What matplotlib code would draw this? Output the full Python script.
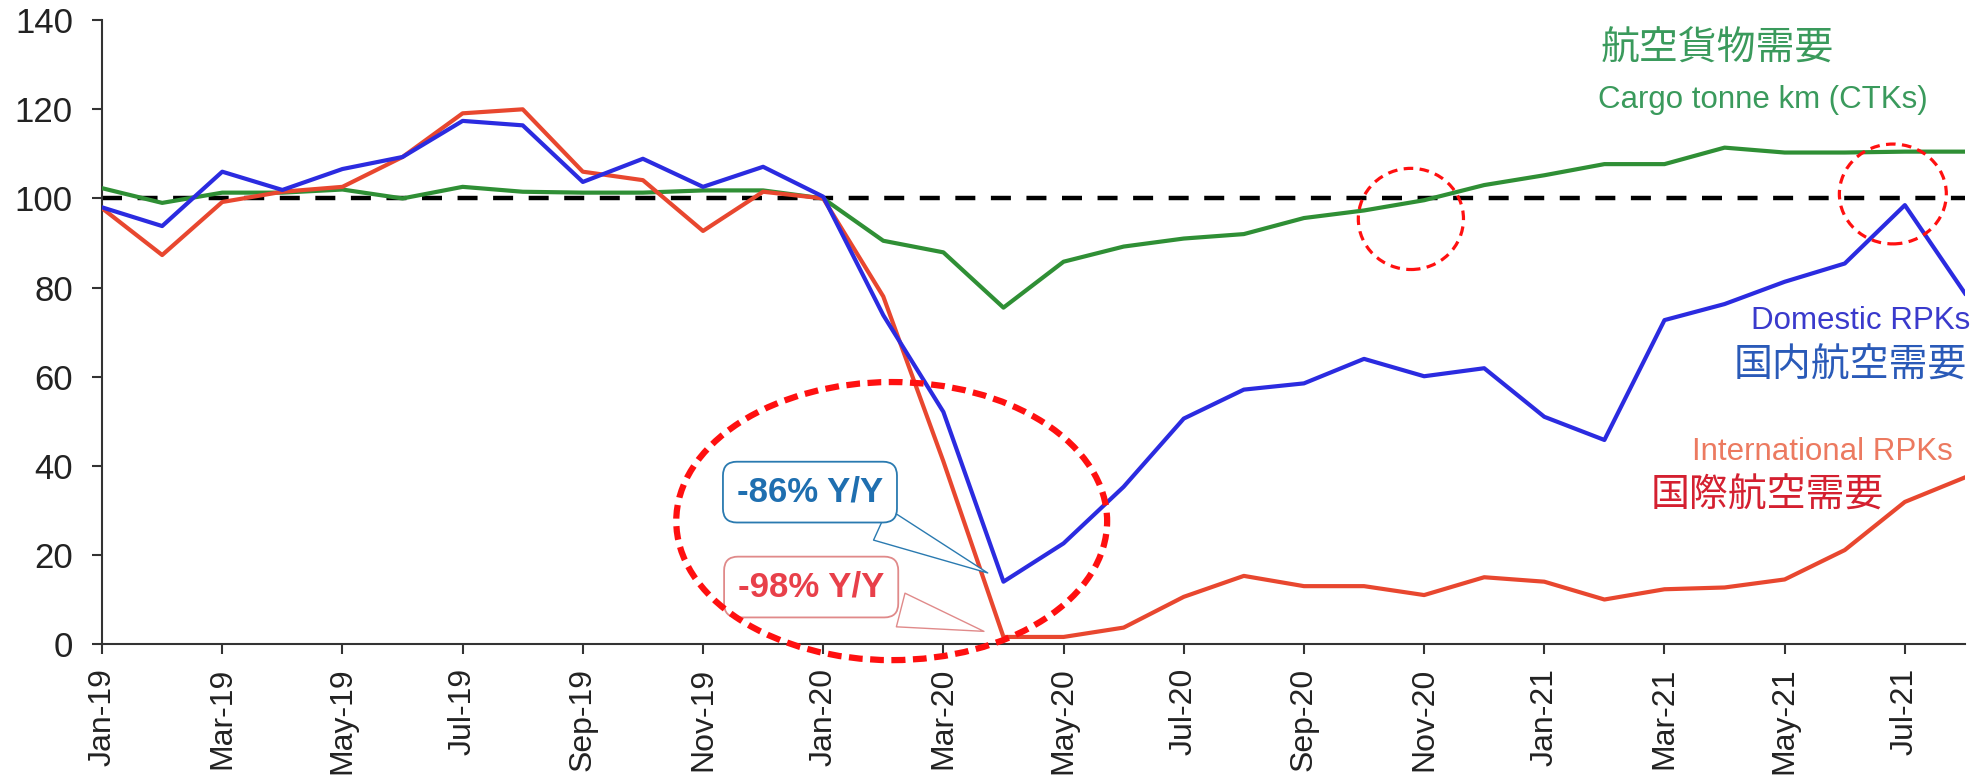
import numpy as np
import matplotlib
matplotlib.use("Agg")
import matplotlib.pyplot as plt
from matplotlib.patches import Ellipse

plt.rcParams['font.family'] = ['Liberation Sans', 'Noto Sans CJK JP', 'DejaVu Sans']

# monthly index, Jan-19 .. Aug-21
months = ["Jan-19", "Feb-19", "Mar-19", "Apr-19", "May-19", "Jun-19", "Jul-19", "Aug-19",
          "Sep-19", "Oct-19", "Nov-19", "Dec-19", "Jan-20", "Feb-20", "Mar-20", "Apr-20",
          "May-20", "Jun-20", "Jul-20", "Aug-20", "Sep-20", "Oct-20", "Nov-20", "Dec-20",
          "Jan-21", "Feb-21", "Mar-21", "Apr-21", "May-21", "Jun-21", "Jul-21", "Aug-21"]

cargo_ctk = [102.3, 99.0, 101.3, 101.3, 102.0, 100.0, 102.6, 101.5,
             101.3, 101.3, 101.8, 101.8, 100.0, 90.5, 87.9, 75.5,
             85.8, 89.2, 91.0, 92.0, 95.6, 97.3, 99.6, 103.0,
             105.2, 107.7, 107.7, 111.4, 110.3, 110.3, 110.5, 110.5]

domestic_rpk = [98.0, 93.8, 106.0, 101.9, 106.6, 109.3, 117.4, 116.4,
                103.7, 108.9, 102.6, 107.1, 100.4, 73.8, 52.1, 14.0,
                22.6, 35.3, 50.6, 57.1, 58.5, 64.0, 60.1, 61.9,
                51.0, 45.8, 72.7, 76.3, 81.3, 85.4, 98.5, 78.7]

intl_rpk = [97.8, 87.3, 99.2, 101.5, 102.6, 109.3, 119.1, 120.0,
            106.0, 104.1, 92.7, 101.5, 100.0, 78.0, 41.0, 1.6,
            1.6, 3.7, 10.6, 15.3, 13.0, 13.0, 11.0, 15.0,
            14.0, 10.0, 12.3, 12.7, 14.5, 21.1, 31.9, 37.4]

baseline = 100
yticks = [0, 20, 40, 60, 80, 100, 120, 140]

GREEN = "#2f8f35"
BLUE = "#2b2be0"
RED = "#e8472f"

x = np.arange(len(months))

fig = plt.figure(figsize=(19.82, 7.76), dpi=100)
ax = fig.add_axes([0.0515, 0.170, 0.9399, 0.804])

ax.axhline(baseline, color="black", lw=3.2, dashes=(4.5, 3.5), zorder=1)
ax.plot(x, cargo_ctk, color=GREEN, lw=3.0, zorder=3)
ax.plot(x, intl_rpk, color=RED, lw=3.0, zorder=3)
ax.plot(x, domestic_rpk, color=BLUE, lw=3.0, zorder=4)

ax.set_xlim(0, len(months) - 1)
ax.set_ylim(0, 140)
ax.set_yticks(yticks)
ax.set_xticks(x[::2])
ax.set_xticklabels(months[::2], rotation=90)

for s in ["top", "right"]:
    ax.spines[s].set_visible(False)
for s in ["left", "bottom"]:
    ax.spines[s].set_color("#333333")
    ax.spines[s].set_linewidth(1.5)
ax.tick_params(axis="both", direction="out", length=7, width=1.5, color="#333333",
               labelsize=23, labelcolor="#222222")
ax.tick_params(axis="y", pad=14, labelsize=25)
ax.tick_params(axis="x", pad=10)

# series labels
ax.text(24.93, 133.4, "航空貨物需要", color="#3a9a5c", fontsize=28, ha="left", va="center")
ax.text(24.9, 122.1, "Cargo tonne km (CTKs)", color="#3a9a5c", fontsize=22.5, ha="left", va="center")
ax.text(31.08, 72.5, "Domestic RPKs", color="#3a3acc", fontsize=22.5, ha="right", va="center")
ax.text(31.03, 62.4, "国内航空需要", color="#2a5ab8", fontsize=28, ha="right", va="center")
ax.text(30.8, 43.1, "International RPKs", color="#ec7a60", fontsize=22.5, ha="right", va="center")
ax.text(29.65, 33.2, "国際航空需要", color="#d42030", fontsize=28, ha="right", va="center")

# call-outs
ax.annotate("-86% Y/Y", xy=(14.78, 15.7), xytext=(11.78, 34.1),
            ha="center", va="center", fontsize=25, fontweight="bold", color="#1f6fb0",
            bbox=dict(boxstyle="round,pad=0.4,rounding_size=0.4", fc="white", ec="#2a7ab0", lw=1.3),
            arrowprops=dict(arrowstyle="wedge,tail_width=1.0,shrink_factor=0.5",
                            fc="white", ec="#2a7ab0", lw=1.0),
            zorder=6)
ax.annotate("-98% Y/Y", xy=(14.72, 2.7), xytext=(11.8, 12.8),
            ha="center", va="center", fontsize=25, fontweight="bold", color="#e8404a",
            bbox=dict(boxstyle="round,pad=0.4,rounding_size=0.4", fc="white", ec="#e08a8a", lw=1.3),
            arrowprops=dict(arrowstyle="wedge,tail_width=1.0,shrink_factor=0.5",
                            fc="white", ec="#e08a8a", lw=1.0),
            zorder=6)

# dashed red highlight circles
ax.add_patch(Ellipse((13.14, 27.6), 7.17, 62.4, fill=False, ec="#ff1010", lw=4.5,
                     ls=(0, (2.2, 1.2)), clip_on=False, zorder=7))
ax.add_patch(Ellipse((21.78, 95.4), 1.75, 22.7, fill=False, ec="#ff1010", lw=2.3,
                     ls=(0, (3, 2)), clip_on=False, zorder=7))
ax.add_patch(Ellipse((29.8, 101.0), 1.78, 22.4, fill=False, ec="#ff1010", lw=2.3,
                     ls=(0, (3, 2)), clip_on=False, zorder=7))

fig.savefig("out.png", dpi=100, facecolor="white")
